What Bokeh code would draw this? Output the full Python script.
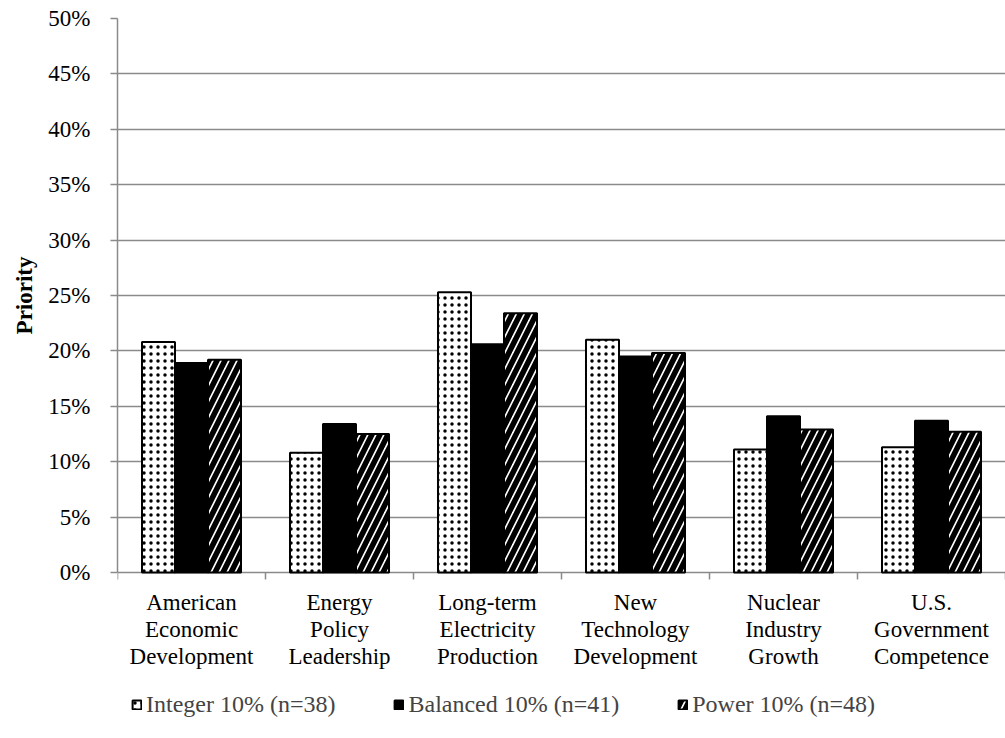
from bokeh.plotting import figure
from bokeh.models import (ColumnDataSource, Range1d, FixedTicker, NumeralTickFormatter,
                          Legend, LegendItem, Title)
from bokeh.core.properties import value
from bokeh.embed import file_html
from bokeh.resources import INLINE
import numpy as np

# Priority shares per objective for each weighting scheme
categories = [
    "American\nEconomic\nDevelopment",
    "Energy\nPolicy\nLeadership",
    "Long-term\nElectricity\nProduction",
    "New\nTechnology\nDevelopment",
    "Nuclear\nIndustry\nGrowth",
    "U.S.\nGovernment\nCompetence",
]
integer_10 = [0.208, 0.108, 0.253, 0.210, 0.111, 0.113]
balanced_10 = [0.189, 0.134, 0.206, 0.195, 0.141, 0.137]
power_10 = [0.192, 0.125, 0.234, 0.198, 0.129, 0.127]
series_names = ["Integer 10% (n=38)", "Balanced 10% (n=41)", "Power 10% (n=48)"]
y_ticks = [0.0, 0.05, 0.10, 0.15, 0.20, 0.25, 0.30, 0.35, 0.40, 0.45, 0.50]

FONT = "Liberation Serif"
GRID = "#8a8a8a"
BAR_W = 0.223

# plot area is 554 px tall for 0..50 %, the rest of the canvas below
# holds the category labels and the legend row
PX_PER_UNIT = 554 / 0.5
Y_BOTTOM = -166 / PX_PER_UNIT

centers = np.arange(len(categories)) + 0.5
bounds = np.arange(len(categories) + 1)

p = figure(width=1005, height=738, output_backend="svg", toolbar_location=None,
           x_axis_location=None,
           x_range=Range1d(0, len(categories)), y_range=Range1d(Y_BOTTOM, 0.5),
           min_border_left=117, min_border_right=0, min_border_top=18,
           min_border_bottom=0)
p.outline_line_color = None
p.background_fill_color = "white"
p.border_fill_color = "white"

p.xgrid.grid_line_color = None
p.ygrid.ticker = FixedTicker(ticks=y_ticks)
p.ygrid.grid_line_color = GRID
p.ygrid.grid_line_width = 1.5

styles = [
    dict(fill_color="white", hatch_pattern="dot", hatch_color="black",
         hatch_scale=7, hatch_weight=1.3),
    dict(fill_color="black"),
    dict(fill_color="white", hatch_pattern="right_diagonal_line", hatch_color="black",
         hatch_scale=16, hatch_weight=5.5),
]
renderers = []
for k, (vals, st) in enumerate(zip([integer_10, balanced_10, power_10], styles)):
    src = ColumnDataSource(dict(x=centers + (k - 1) * BAR_W, top=vals))
    r = p.vbar(x="x", top="top", bottom=0, width=BAR_W, source=src,
               line_color="black", line_width=2, **st)
    renderers.append(r)

# category axis: boundary tick marks and three-line labels
p.segment(x0=bounds, y0=np.zeros(len(bounds)), x1=bounds,
          y1=np.full(len(bounds), -7 / PX_PER_UNIT), line_color=GRID, line_width=1.5)
p.text(x=centers, y=np.zeros(len(centers)), text=categories, y_offset=17,
       text_font=value(FONT), text_font_size="23px", text_color="black",
       text_align="center", text_baseline="top", text_line_height=1.09)

# y axis
p.yaxis.bounds = (0, 0.5)
p.yaxis.ticker = FixedTicker(ticks=y_ticks)
p.yaxis.formatter = NumeralTickFormatter(format="0%")
p.yaxis.major_label_text_font = FONT
p.yaxis.major_label_text_font_size = "23px"
p.yaxis.major_label_text_color = "black"
p.yaxis.major_label_standoff = 20
p.yaxis.major_tick_in = 0
p.yaxis.major_tick_out = 7
p.yaxis.minor_tick_line_color = None
p.yaxis.axis_line_color = GRID
p.yaxis.major_tick_line_color = GRID
p.yaxis.axis_line_width = 1.5
p.yaxis.major_tick_line_width = 1.5

# axis title, centred on the 0-50 % span rather than the whole frame
ytitle = Title(text="Priority", align="right", offset=238, standoff=17,
               text_font=FONT, text_font_style="bold", text_font_size="23px",
               text_color="black")
p.add_layout(ytitle, "left")

legend = Legend(items=[LegendItem(label=n, renderers=[r]) for n, r in zip(series_names, renderers)],
                orientation="horizontal", location=(14, 20))
legend.label_text_font = FONT
legend.label_text_font_size = "24px"
legend.glyph_width = 11
legend.glyph_height = 11
legend.label_standoff = 4
legend.spacing = 58
legend.padding = 0
legend.margin = 0
legend.border_line_color = None
legend.background_fill_alpha = 0
p.add_layout(legend)

open("out.html", "w").write(file_html(p, INLINE))
